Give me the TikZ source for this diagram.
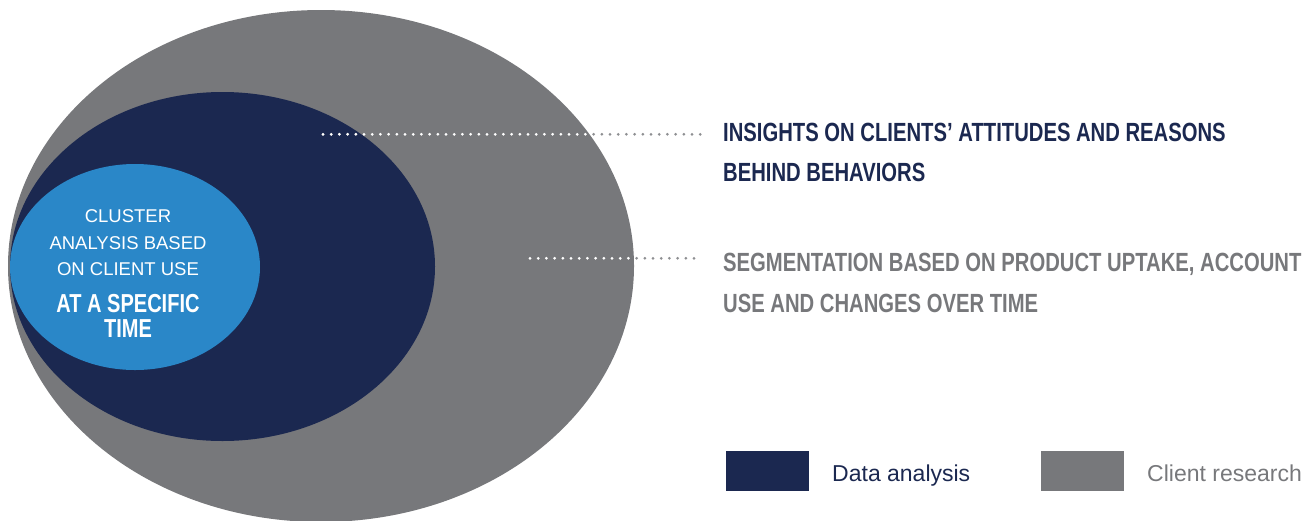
\documentclass[tikz,border=0pt]{standalone}
\usepackage{fontspec}
\setmainfont{Liberation Sans}
\newfontfamily\condfam[FakeStretch=0.77]{Liberation Sans}
\usetikzlibrary{shapes.geometric}

\definecolor{navy}{HTML}{1B2850}
\definecolor{slate}{HTML}{77787B}
\definecolor{sky}{HTML}{2A87C8}
\definecolor{dotgray}{HTML}{8E8F92}

\tikzset{
  blob/.style={ellipse, draw=none, inner sep=0pt},
  plain/.style={font=\fontsize{18.5}{20}\selectfont, text=white, anchor=base, inner sep=0pt},
  strong/.style={font=\condfam\bfseries\fontsize{26.3}{28}\selectfont, anchor=base, inner sep=0pt},
  heading/.style={strong, anchor=base west},
  legendbox/.style={draw=none, minimum width=83pt, minimum height=40pt, inner sep=0pt, anchor=north west},
  legendtext/.style={font=\fontsize{23}{25}\selectfont, anchor=base west, inner sep=0pt},
  dotline/.style={line width=3pt, line cap=round, dash pattern=on 0pt off 8.2pt}
}

\begin{document}
\begin{tikzpicture}[x=1pt, y=-1pt]
\useasboundingbox (0,0) rectangle (1313,520);

% nested ellipses
\node[blob, fill=slate, minimum width=626pt, minimum height=512pt] (research) at (321,266) {};
\node[blob, fill=navy, minimum width=425pt, minimum height=349pt] (analysis) at (222.5,266.5) {};
\node[blob, fill=sky, minimum width=250pt, minimum height=206pt] (cluster) at (135,267) {};

% text inside the inner ellipse
\node[plain] (c1) at (128,222.7) {CLUSTER};
\node[plain] (c2) at (128,249.3) {ANALYSIS BASED};
\node[plain] (c3) at (128,275.5) {ON CLIENT USE};
\node[strong, font=\condfam\bfseries\fontsize{26}{28}\selectfont, text=white] (c4) at (128,312.7) {AT A SPECIFIC};
\node[strong, font=\condfam\bfseries\fontsize{26}{28}\selectfont, text=white] (c5) at (128,337.7) {TIME};

% headings on the right
\node[heading, text=navy] (h1) at (723,141.7) {INSIGHTS ON CLIENTS’ ATTITUDES AND REASONS};
\node[heading, text=navy] (h2) at (723,181.7) {BEHIND BEHAVIORS};
\node[heading, text=slate] (h3) at (723,271.7) {SEGMENTATION BASED ON PRODUCT UPTAKE, ACCOUNT};
\node[heading, text=slate] (h4) at (723,312.2) {USE AND CHANGES OVER TIME};

% dotted leaders: grey on white, white over the grey ellipse
\coordinate (dA) at (323,134.3);
\coordinate (dB) at (530,258.3);
\draw[dotline, draw=dotgray, shorten >=21pt] (dA) -- (dA -| h1.west);
\draw[dotline, draw=dotgray, shorten >=21pt] (dB) -- (dB -| h3.west);
\begin{scope}
  \clip (321,266) ellipse [x radius=313, y radius=256];
  \draw[dotline, draw=white, shorten >=21pt] (dA) -- (dA -| h1.west);
  \draw[dotline, draw=white, shorten >=21pt] (dB) -- (dB -| h3.west);
\end{scope}

% legend
\node[legendbox, fill=navy] (keyA) at (726,451) {};
\node[legendtext, text=navy] (keyAtext) at (832,481.7) {Data analysis};
\node[legendbox, fill=slate] (keyB) at (1041,451) {};
\node[legendtext, text=slate] (keyBtext) at (1147,481.7) {Client research};
\end{tikzpicture}
\end{document}
